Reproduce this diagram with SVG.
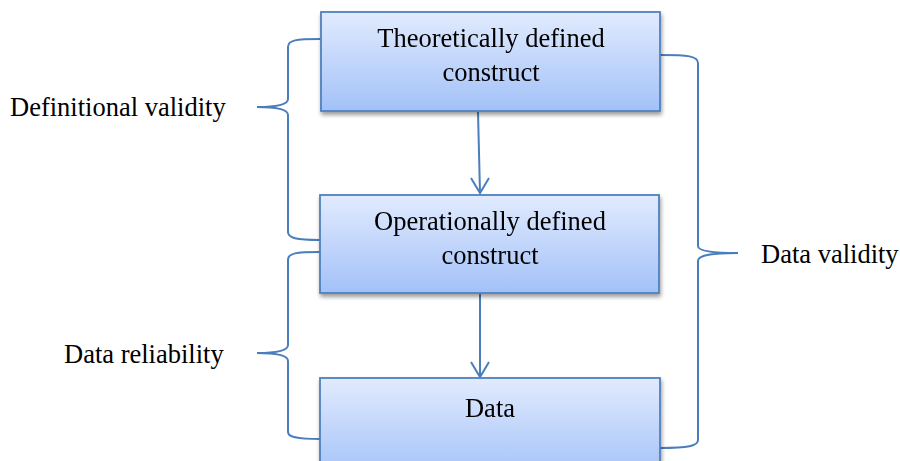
<svg xmlns="http://www.w3.org/2000/svg" width="900" height="461" viewBox="0 0 900 461">
<style>
.box{fill:url(#g);stroke:#4f81bd;stroke-width:1.8}
.t{font-family:"Liberation Serif","Times New Roman",serif;font-size:26.5px;fill:#000}
.c{text-anchor:middle}
.br{fill:none;stroke:#4a7ebb;stroke-width:2}
.ar{fill:none;stroke:#4a7ebb;stroke-width:2}
</style>
<defs>
<linearGradient id="g" x1="0" y1="0" x2="0" y2="1">
<stop offset="0" stop-color="#e1ebfe"/>
<stop offset="1" stop-color="#a3c1f8"/>
</linearGradient>
<filter id="sh" x="-10%" y="-10%" width="120%" height="130%">
<feGaussianBlur in="SourceAlpha" stdDeviation="2"/>
<feOffset dx="1" dy="3"/>
<feComponentTransfer><feFuncA type="linear" slope="0.4"/></feComponentTransfer>
<feMerge><feMergeNode/><feMergeNode in="SourceGraphic"/></feMerge>
</filter>
</defs>
<g id="connectors">
<path class="ar" d="M478,112 L480,193"/>
<path class="ar" d="M471,178 L480,193 L489,178"/>
<path class="ar" d="M480,294 L480,377"/>
<path class="ar" d="M471,362 L480,377 L489,362"/>
</g>
<g id="brace-definitional">
<path class="br" d="M320,39 C296,39 288,40 288,47 L288,99 C288,104 280,107 257,107 C280,107 288,110 288,115 L288,232 C288,238 296,240 320,240"/>
<text class="t" x="10" y="116">Definitional validity</text>
</g>
<g id="brace-reliability">
<path class="br" d="M320,252 C296,252 288,253 288,260 L288,345 C288,350 280,353 257,353 C280,353 288,356 288,361 L288,432 C288,437 296,439 320,439"/>
<text class="t" x="64" y="363">Data reliability</text>
</g>
<g id="brace-validity">
<path class="br" d="M660,55 C688,55 698,56 698,63 L698,246 C698,251 712,253 738,253 C712,253 698,255 698,261 L698,440 C698,446 688,448 660,448"/>
<text class="t" x="761" y="263">Data validity</text>
</g>
<g id="node-theoretical" filter="url(#sh)">
<rect class="box" x="321" y="12" width="339" height="99"/>
<text class="t c" x="491" y="47">Theoretically defined</text>
<text class="t c" x="491" y="81">construct</text>
</g>
<g id="node-operational" filter="url(#sh)">
<rect class="box" x="320" y="195" width="339" height="98"/>
<text class="t c" x="490" y="230">Operationally defined</text>
<text class="t c" x="490" y="264">construct</text>
</g>
<g id="node-data" filter="url(#sh)">
<rect class="box" x="320" y="378" width="340" height="100"/>
<text class="t c" x="490" y="417">Data</text>
</g>
</svg>
